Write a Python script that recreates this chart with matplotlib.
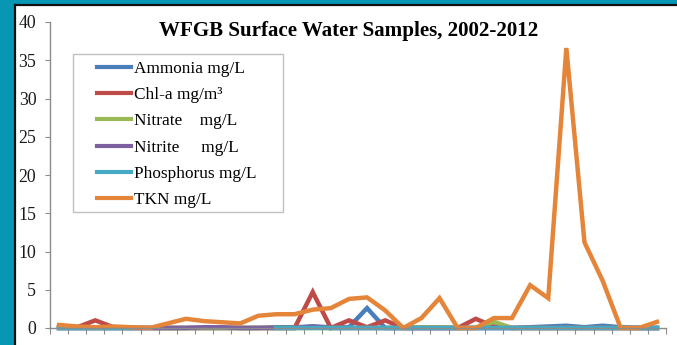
import matplotlib.pyplot as plt
from matplotlib.patches import Rectangle
from matplotlib.lines import Line2D
import numpy as np

nan = np.nan

# sample index along the x axis (no labels on the category axis)
samples = np.arange(34)

ammonia = [0, 0, 0, 0, 0, 0, 0, 0, 0, 0, 0, 0, 0.1, 0.1, 0.2, 0.1, 0.1,
           2.6, 0, 0, 0, 0, 0, 0, 0, 0, 0.1, 0.2, 0.3, 0.1, 0.3, 0.1, 0, 0]
chla = [0.2, 0.1, 1.0, 0.1, 0, 0, 0, 0, 0, 0, 0, 0, 0, 0, 4.7, 0, 1.0,
        0.1, 1.0, 0, 0, 0, 0, 1.2, 0.2, 0, 0, 0, 0, 0, 0, 0, 0, 0]
nitrate = [0, 0, 0, 0, 0, 0, 0, 0, 0, 0, 0, 0, 0, 0, 0, 0, 0, 0, 0, 0,
           0.1, 0.1, 0, 0, 0.8, 0, 0, 0, 0, 0, 0, 0, 0, 0]
nitrite = [0, 0, 0, 0, 0, 0, 0, 0, 0.1, 0.1, 0, 0, 0, 0, 0.2, 0, 0, 0,
           0, 0, 0, 0, 0, 0, 0, 0, 0, 0, 0, 0, 0, 0, 0, 0]
phosphorus = [0.05, 0.05, 0.05, 0.05, 0.05, nan, nan, nan, nan, nan, nan,
              nan, 0.05, 0.05, 0.05, 0.05, 0.05, 0.05, 0.05, 0.05, 0.05,
              0.05, 0.05, 0.05, 0.05, 0.05, 0.05, 0.05, 0.05, 0.05, 0.05,
              0.05, 0.05, 0.05]
tkn = [0.4, 0.2, 0.1, 0.2, 0.1, 0.0, 0.6, 1.2, 0.9, 0.75, 0.6, 1.6, 1.8,
       1.8, 2.4, 2.6, 3.8, 4.0, 2.3, 0.0, 1.3, 3.9, 0.0, 0.0, 1.3, 1.3,
       5.6, 3.9, 36.6, 11.2, 6.2, 0.0, 0.0, 0.8]

series = [
    ("Ammonia mg/L", ammonia, "#4a7ebb"),
    ("Chl-a mg/m\u00b3", chla, "#be4b48"),
    ("Nitrate    mg/L", nitrate, "#98b954"),
    ("Nitrite     mg/L", nitrite, "#7d60a0"),
    ("Phosphorus mg/L", phosphorus, "#46aac5"),
    ("TKN mg/L", tkn, "#e5853a"),
]

W, H = 677, 345
plt.rcParams['font.family'] = ['Liberation Serif', 'DejaVu Serif']

fig = plt.figure(figsize=(W / 100, H / 100), dpi=100, facecolor="#0797b4")

# white slide panel with a thin dark edge on the left and top
fig.patches.append(Rectangle((16 / W, 0), 1 - 16 / W, 1 - 6 / H,
                             transform=fig.transFigure, facecolor="white",
                             edgecolor="none", zorder=-10))
fig.lines.append(Line2D([15.5 / W, 15.5 / W], [0, 1 - 5 / H],
                        transform=fig.transFigure, color="#111111", lw=1.6))
fig.lines.append(Line2D([15.5 / W, 1], [1 - 5 / H, 1 - 5 / H],
                        transform=fig.transFigure, color="#111111", lw=1.6))

ax = fig.add_axes([50 / W, 1 - 328 / H, 616 / W, 306 / H])
ax.set_facecolor("white")

for name, vals, col in series:
    ax.plot(samples, vals, color=col, lw=3.2, label=name,
            solid_joinstyle="miter", clip_on=False)

ax.set_xlim(-0.5, len(samples) - 0.5)
ax.set_ylim(0, 40)
ax.set_yticks(np.arange(0, 41, 5))
ax.set_xticks(np.arange(-0.5, len(samples), 1.0))
ax.set_xticklabels([])

for s in ["top", "right"]:
    ax.spines[s].set_visible(False)
for s in ["left", "bottom"]:
    ax.spines[s].set_color("#8c8c8c")
    ax.spines[s].set_linewidth(1.0)

ax.tick_params(axis="y", direction="out", length=3.4, width=0.8,
               color="#8c8c8c", labelsize=12.8, pad=6.5, labelcolor="#1a1a1a")
ax.tick_params(axis="x", direction="out", length=4.3, width=0.8,
               color="#8c8c8c")

fig.text(349 / W, 1 - 31 / H, "WFGB Surface Water Samples, 2002-2012",
         ha="center", va="center", fontsize=15.1, fontweight="bold")

# legend box: frame drawn separately so its padding can be wider than the text
fig.patches.append(Rectangle((73 / W, 1 - 212 / H), 210 / W, 158 / H,
                             transform=fig.transFigure, facecolor="white",
                             edgecolor="#c0c0c0", lw=1.0, zorder=3))
handles, labels = ax.get_legend_handles_labels()
leg = fig.legend(handles, labels, loc="upper left",
                 bbox_to_anchor=(97 / W, 1 - 60.5 / H),
                 bbox_transform=fig.transFigure,
                 fontsize=12.4, frameon=False,
                 handlelength=2.0, handletextpad=0.15, labelspacing=0.6,
                 borderpad=0, borderaxespad=0)
leg.set_zorder(4)
for line in leg.get_lines():
    line.set_linewidth(3.0)

fig.savefig("out.png", dpi=100, facecolor=fig.get_facecolor())
